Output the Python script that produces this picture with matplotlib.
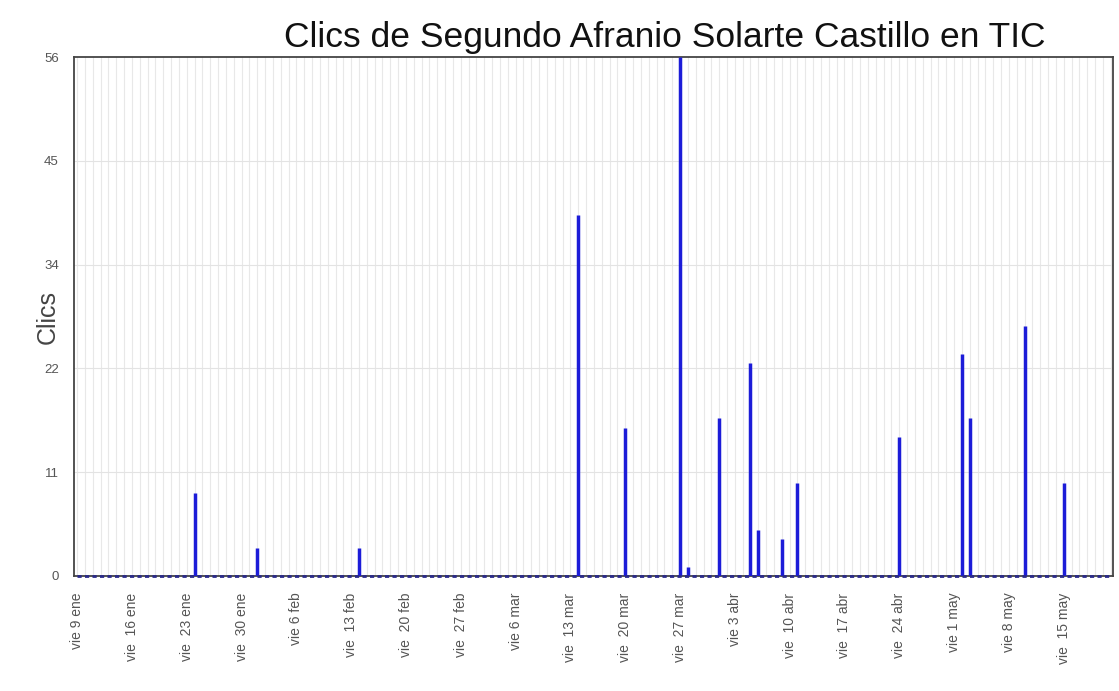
import matplotlib
matplotlib.use("Agg")
import matplotlib.pyplot as plt
import matplotlib.dates as mdates
import pandas as pd
import numpy as np

plt.rcParams['font.family'] = ['Liberation Sans', 'DejaVu Sans']

# ---- data ----
title = "Clics de Segundo Afranio Solarte Castillo en TIC"
ylabel = "Clics"
start_date = "2015-01-09"
end_date = "2015-05-21"
click_dates = ["2015-01-24", "2015-02-01", "2015-02-14", "2015-03-14", "2015-03-20",
               "2015-03-27", "2015-03-28", "2015-04-01", "2015-04-05", "2015-04-06",
               "2015-04-09", "2015-04-11", "2015-04-24", "2015-05-02", "2015-05-03",
               "2015-05-10", "2015-05-15"]
click_values = [9, 3, 3, 39, 16, 56, 1, 17, 23, 5, 4, 10, 15, 24, 17, 27, 10]
ytick_values = [0, 11.2, 22.4, 33.6, 44.8, 56]
ytick_labels = ["0", "11", "22", "34", "45", "56"]
month_abbr = {1: "ene", 2: "feb", 3: "mar", 4: "abr", 5: "may"}

# ---- build series ----
days = pd.date_range(start_date, end_date, freq="D")
series = pd.Series(0.0, index=days)
for d, v in zip(click_dates, click_values):
    series[pd.Timestamp(d)] = v

fig = plt.figure(figsize=(11.19, 6.91), dpi=100)
ax = fig.add_axes([74/1119, (691-576)/691, (1113-74)/1119, (576-57)/691])

x = mdates.date2num(series.index.to_pydatetime())
# daily vertical grid
for xi in x:
    ax.axvline(xi, color="#e8e8e8", lw=0.8, zorder=0)
for yv in ytick_values[1:-1]:
    ax.axhline(yv, color="#e3e3e3", lw=0.8, zorder=0)

nz = series.values > 0
ax.vlines(x[nz], 0, series.values[nz], color="#1c1cd8", lw=2.5, zorder=3)
# baseline with small daily stubs
ax.plot(x, series.values * 0, linestyle=(0, (1.5, 1.2)), color="#2a2a8a", lw=2.0,
        zorder=4, clip_on=False)

ax.set_ylim(0, 56)
ax.set_xlim(x[0] - 0.4, x[0] + 132.3)

ax.set_yticks(ytick_values)
ax.set_yticklabels(ytick_labels)

fridays = pd.date_range(start_date, "2015-05-15", freq="7D")
ax.set_xticks(mdates.date2num(fridays.to_pydatetime()))
labels = []
for f in fridays:
    sp = "  " if f.day >= 10 else " "
    labels.append(f"vie{sp}{f.day} {month_abbr[f.month]}")
ax.set_xticklabels(labels, rotation=90, va="top", ha="center")

ax.tick_params(axis="both", length=0, colors="#555555")
ax.tick_params(axis="y", labelsize=9.5, pad=11)
ax.tick_params(axis="x", labelsize=10, pad=12)

for s in ax.spines.values():
    s.set_color("#444444")
    s.set_linewidth(1.3)

ax.set_ylabel(ylabel, fontsize=18, color="#444444")
ax.yaxis.set_label_coords(-14/1039, 0.5)
fig.text(665/1119, 1 - 38/691, title, fontsize=25.5, color="#111111",
         ha="center", va="center")

fig.savefig("out.png", dpi=100)
